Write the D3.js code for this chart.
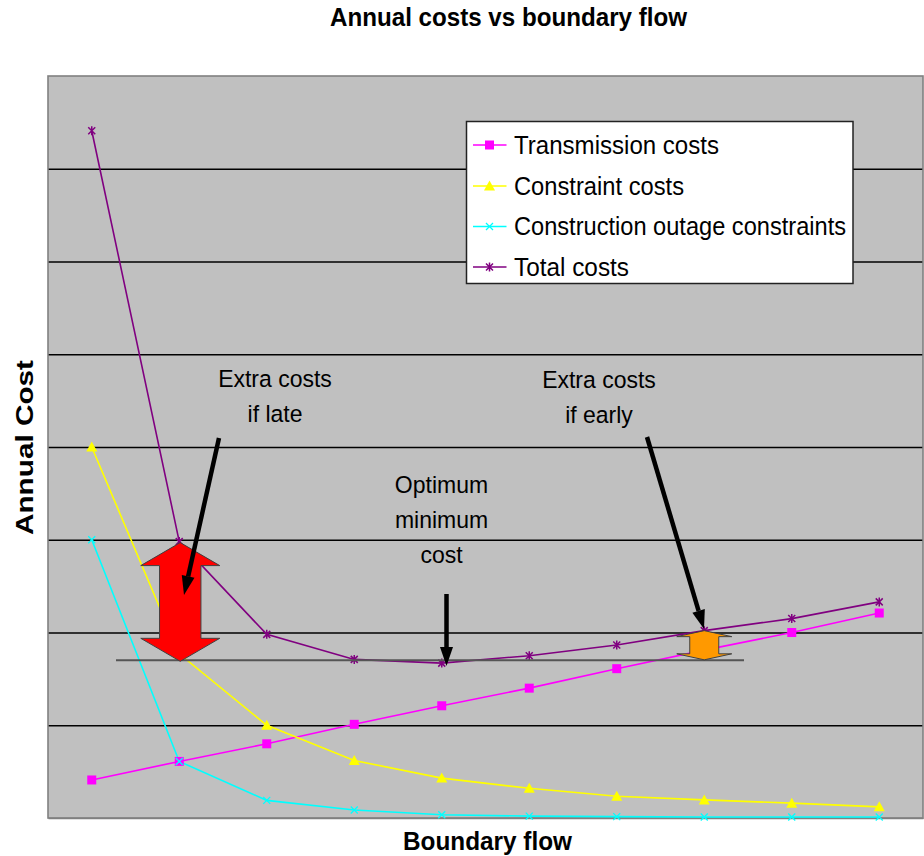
<!DOCTYPE html>
<html>
<head>
<meta charset="utf-8">
<script src="https://cdn.jsdelivr.net/npm/d3@7"></script>
<style>
  html, body { margin: 0; padding: 0; background: #fff; }
  svg { display: block; font-family: "Liberation Sans", Arial, sans-serif; }
</style>
</head>
<body>
<svg id="chart" width="924" height="856"></svg>
<script>
// ---- Data ----
const categories = ["1","2","3","4","5","6","7","8","9","10"];
const transmissionCosts = [0.41, 0.61, 0.80, 1.01, 1.21, 1.40, 1.61, 1.81, 2.00, 2.21];
const constraintCosts   = [4.00, 1.77, 1.00, 0.62, 0.43, 0.32, 0.235, 0.195, 0.16, 0.12];
const constructionOutage= [3.00, 0.61, 0.19, 0.086, 0.035, 0.02, 0.015, 0.01, 0.01, 0.01];
const totalCosts        = [7.41, 2.98, 1.98, 1.71, 1.67, 1.75, 1.865, 2.02, 2.15, 2.33];
const seriesNames = ["Transmission costs", "Constraint costs", "Construction outage constraints", "Total costs"];
const yTicks = [0, 1, 2, 3, 4, 5, 6, 7, 8];
const minimumLevel = 1.70;

const series = [
  { name: seriesNames[0], values: transmissionCosts, color: "#FF00FF", marker: "square" },
  { name: seriesNames[1], values: constraintCosts,    color: "#FFFF00", marker: "triangle" },
  { name: seriesNames[2], values: constructionOutage, color: "#00FFFF", marker: "x" },
  { name: seriesNames[3], values: totalCosts,         color: "#800080", marker: "star" }
];

// ---- Layout ----
const svg = d3.select("#chart");
const plot = { left: 48, right: 923, top: 76, bottom: 818 };

const x = d3.scalePoint().domain(categories).range([plot.left, plot.right]).padding(0.5);
const y = d3.scaleLinear().domain([0, 8]).range([plot.bottom, plot.top]);

// Plot background
svg.append("rect")
  .attr("x", plot.left).attr("y", plot.top)
  .attr("width", plot.right - plot.left).attr("height", plot.bottom - plot.top)
  .attr("fill", "#C0C0C0");

// Gridlines via axis
const grid = svg.append("g")
  .attr("transform", `translate(${plot.left},0)`)
  .call(d3.axisLeft(y).tickValues(yTicks.filter(v => v > 0 && v < 8)).tickSize(-(plot.right - plot.left)).tickFormat(""));
grid.select(".domain").remove();
grid.selectAll(".tick line").attr("stroke", "#000").attr("stroke-width", 1.3);

// Plot border
svg.append("rect")
  .attr("x", plot.left).attr("y", plot.top)
  .attr("width", plot.right - plot.left).attr("height", plot.bottom - plot.top)
  .attr("fill", "none").attr("stroke", "#808080").attr("stroke-width", 1.6);

// X axis (no labels)
const xAxis = svg.append("g")
  .attr("transform", `translate(0,${plot.bottom})`)
  .call(d3.axisBottom(x).tickSize(0).tickFormat(""));
xAxis.select(".domain").attr("stroke", "#808080").attr("stroke-width", 1.6);

// ---- Lines ----
const line = d3.line().x((d, i) => x(categories[i])).y(d => y(d));

function drawMarker(g, type, cx, cy, color) {
  if (type === "square") {
    g.append("rect").attr("x", cx - 4.5).attr("y", cy - 4.5).attr("width", 9).attr("height", 9)
      .attr("fill", color);
  } else if (type === "triangle") {
    g.append("path").attr("d", `M${cx},${cy - 5.5}L${cx + 5.5},${cy + 4.5}L${cx - 5.5},${cy + 4.5}Z`)
      .attr("fill", color);
  } else if (type === "x") {
    g.append("path").attr("d", `M${cx - 3.5},${cy - 3.5}L${cx + 3.5},${cy + 3.5}M${cx + 3.5},${cy - 3.5}L${cx - 3.5},${cy + 3.5}`)
      .attr("stroke", color).attr("stroke-width", 1.3).attr("fill", "none");
  } else if (type === "star") {
    g.append("path").attr("d", `M${cx - 3.5},${cy - 3.5}L${cx + 3.5},${cy + 3.5}M${cx + 3.5},${cy - 3.5}L${cx - 3.5},${cy + 3.5}M${cx},${cy - 4.5}L${cx},${cy + 4.5}`)
      .attr("stroke", color).attr("stroke-width", 1.5).attr("fill", "none");
  }
}

const linesG = svg.append("g");
series.forEach(s => {
  linesG.append("path").datum(s.values)
    .attr("d", line).attr("fill", "none")
    .attr("stroke", s.color).attr("stroke-width", 1.6);
});
series.forEach(s => {
  s.values.forEach((v, i) => drawMarker(linesG, s.marker, x(categories[i]), y(v), s.color));
});

// ---- Annotations ----
const ann = svg.append("g");

// Minimum reference line
ann.append("line")
  .attr("x1", 116).attr("x2", 744)
  .attr("y1", y(minimumLevel)).attr("y2", y(minimumLevel))
  .attr("stroke", "#555").attr("stroke-width", 2);

function upDownArrow(cx, yTop, yBot, headHalf, shaftHalf, headH) {
  return [
    [cx, yTop], [cx + headHalf, yTop + headH], [cx + shaftHalf, yTop + headH],
    [cx + shaftHalf, yBot - headH], [cx + headHalf, yBot - headH], [cx, yBot],
    [cx - headHalf, yBot - headH], [cx - shaftHalf, yBot - headH],
    [cx - shaftHalf, yTop + headH], [cx - headHalf, yTop + headH]
  ].map(p => p.join(",")).join(" ");
}

// Red arrow: from total at category 2 down to minimum level
const redCx = x(categories[1]) + 1;
ann.append("polygon")
  .attr("points", upDownArrow(redCx, y(totalCosts[1]) + 1, y(minimumLevel) + 1, 39.5, 20.7, 23))
  .attr("fill", "#FF0000").attr("stroke", "#404040").attr("stroke-width", 1);

// Orange arrow: from total at category 8 down to minimum level
const orCx = x(categories[7]);
ann.append("polygon")
  .attr("points", upDownArrow(orCx, y(totalCosts[7]), y(minimumLevel) - 0.5, 27.5, 14.5, 6))
  .attr("fill", "#FF9900").attr("stroke", "#404040").attr("stroke-width", 1);

function blackArrow(x1, y1, x2, y2) {
  const ang = Math.atan2(y2 - y1, x2 - x1);
  const L = 19, W = 6.5;
  const bx = x2 - L * Math.cos(ang), by = y2 - L * Math.sin(ang);
  ann.append("line").attr("x1", x1).attr("y1", y1).attr("x2", bx).attr("y2", by)
    .attr("stroke", "#000").attr("stroke-width", 4.5);
  const px = -Math.sin(ang), py = Math.cos(ang);
  ann.append("polygon")
    .attr("points", [[x2, y2], [bx + px * W, by + py * W], [bx - px * W, by - py * W]].map(p => p.join(",")).join(" "))
    .attr("fill", "#000");
}
blackArrow(219, 438, 184, 595);
blackArrow(446.5, 594, 446.5, 666);
blackArrow(647, 437, 704, 629);

// Annotation texts
function multiText(lines, cx, y0, dy) {
  lines.forEach((l, i) => {
    ann.append("text").attr("text-anchor", "middle").attr("font-size", 23).attr("fill", "#000")
      .attr("transform", `translate(${cx},${y0 + i * dy}) scale(1,1.06)`)
      .text(l);
  });
}
multiText(["Extra costs", "if late"], 275, 387, 35);
multiText(["Optimum", "minimum", "cost"], 441.5, 493, 35);
multiText(["Extra costs", "if early"], 599, 388, 35);

// ---- Legend ----
const legend = svg.append("g");
legend.append("rect")
  .attr("x", 466.5).attr("y", 121.5).attr("width", 386.5).attr("height", 162)
  .attr("fill", "#fff").attr("stroke", "#222").attr("stroke-width", 1.5);
const legendRowY = [145, 186, 226.5, 267];
const legendTextWidths = [205, 170, 332, 115];
series.forEach((s, i) => {
  const ly = legendRowY[i];
  legend.append("line").attr("x1", 473).attr("x2", 506.5).attr("y1", ly).attr("y2", ly)
    .attr("stroke", s.color).attr("stroke-width", 1.6);
  drawMarker(legend, s.marker, 489.5, ly, s.color);
  legend.append("text")
    .attr("transform", `translate(514,${ly + 8.5}) scale(1,1.1)`)
    .attr("font-size", 24).attr("fill", "#000")
    .attr("textLength", legendTextWidths[i]).attr("lengthAdjust", "spacingAndGlyphs")
    .text(s.name);
});

// ---- Titles ----
svg.append("text")
  .attr("transform", "translate(508.5,26) scale(1,1.05)")
  .attr("text-anchor", "middle")
  .attr("font-size", 24).attr("font-weight", "bold")
  .attr("textLength", 357).attr("lengthAdjust", "spacingAndGlyphs")
  .text("Annual costs vs boundary flow");

svg.append("text")
  .attr("transform", "translate(487.5,850) scale(1,1.1)")
  .attr("text-anchor", "middle")
  .attr("font-size", 24).attr("font-weight", "bold")
  .attr("textLength", 169).attr("lengthAdjust", "spacingAndGlyphs")
  .text("Boundary flow");

svg.append("text")
  .attr("transform", "translate(33,447.5) rotate(-90)")
  .attr("text-anchor", "middle")
  .attr("font-size", 24).attr("font-weight", "bold")
  .attr("textLength", 175).attr("lengthAdjust", "spacingAndGlyphs")
  .text("Annual Cost");
</script>
</body>
</html>
